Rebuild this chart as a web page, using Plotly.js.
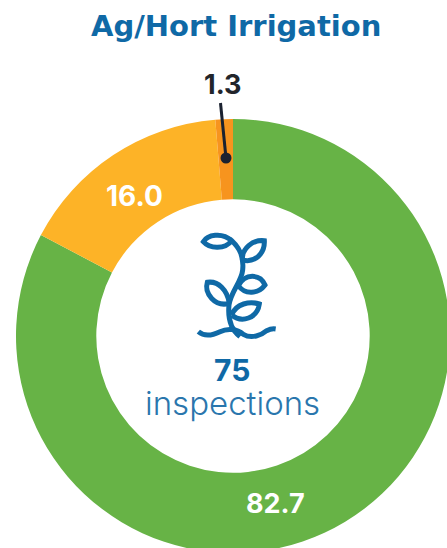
<!DOCTYPE html>
<html><head><meta charset="utf-8">
<script src="https://cdn.plot.ly/plotly-3.0.1.min.js"></script>
<style>html,body{margin:0;padding:0;background:#fff;overflow:hidden;width:447px;height:548px}</style>
</head><body><div id="c"></div>
<script>
const categories = ["Compliant", "Minor", "Major"];
const values = [82.7, 16.0, 1.3];
const valueLabels = ["82.7", "16.0", "1.3"];
const sliceColors = ["#67b346", "#fdb327", "#f7941e"];
const titleText = "Ag/Hort Irrigation";
const inspections = 75;
const inspectionsLabel = "inspections";

const W = 466, H = 553, CX = 233, CY = 336, R = 217;
const px = x => x / W, py = y => 1 - y / H;
const blue = "#0f69a6", font = "Inter, 'Open Sans', sans-serif";

// icon paths in a 3x crop frame, offset to page pixels
const iconPaths = [
  "M205 335 C225 352 250 345 270 335 C290 325 320 325 340 343 C365 358 395 345 410 332 C420 327 430 326 437 327",
  "M305 62 C275 35 232 45 220 65 C240 88 285 88 305 62 C330 85 342 110 338 150 C335 185 302 215 297 255 C293 295 305 330 330 350",
  "M337 120 C335 85 370 58 403 62 C405 100 375 130 337 120",
  "M325 197 C345 160 390 160 405 195 C385 222 345 225 325 197",
  "M298 250 C292 210 265 182 232 187 C222 220 255 262 298 250",
  "M305 285 C318 250 360 243 388 252 C382 295 335 310 305 285"
];
function toPaper(d) {
  return d.replace(/(-?[\d.]+) (-?[\d.]+)/g, (m, a, b) =>
    px(130 + a / 3).toFixed(5) + " " + py(220 + b / 3).toFixed(5));
}
const shapes = iconPaths.map(d => ({
  type: "path", xref: "paper", yref: "paper", path: toPaper(d),
  line: {color: blue, width: 5}
}));
shapes.push({type: "line", xref: "paper", yref: "paper",
  x0: px(220.5), y0: py(103), x1: px(226), y1: py(158),
  line: {color: "#1b2230", width: 3}});
shapes.push({type: "circle", xref: "paper", yref: "paper",
  x0: px(220.5), x1: px(231.5), y0: py(152.5), y1: py(163.5),
  fillcolor: "#1b2230", line: {width: 0}});

function note(text, x, y, size, color, weight, family) {
  return {xref: "paper", yref: "paper", x: px(x), y: py(y), xanchor: "center", yanchor: "middle",
    showarrow: false, text: text,
    font: {family: family || font, size: size, color: color, weight: weight}};
}
const annotations = [
  note(titleText, 236, 26, 29, blue, 700, "'DejaVu Sans', sans-serif"),
  note(valueLabels[2], 222, 84, 27, "#22252b", 700),
  note(valueLabels[1], 134, 196, 28, "#ffffff", 700),
  note(valueLabels[0], 275, 503, 27, "#ffffff", 700),
  note(String(inspections), 232, 370, 30, blue, 700),
  note(inspectionsLabel, 232, 403, 33, "#2a76ad", 300)
];

Plotly.newPlot("c", [{
  type: "pie", labels: categories, values: values, sort: false, direction: "clockwise", rotation: 0,
  hole: 0.63, textinfo: "none", hoverinfo: "none",
  marker: {colors: sliceColors, line: {width: 0}},
  domain: {x: [px(CX - R), px(CX + R)], y: [py(CY + R), py(CY - R)]}
}], {
  width: W, height: H, margin: {l: 0, r: 0, t: 0, b: 0}, showlegend: false,
  paper_bgcolor: "#ffffff", shapes: shapes, annotations: annotations
}, {displayModeBar: false, staticPlot: true});
</script></body></html>
